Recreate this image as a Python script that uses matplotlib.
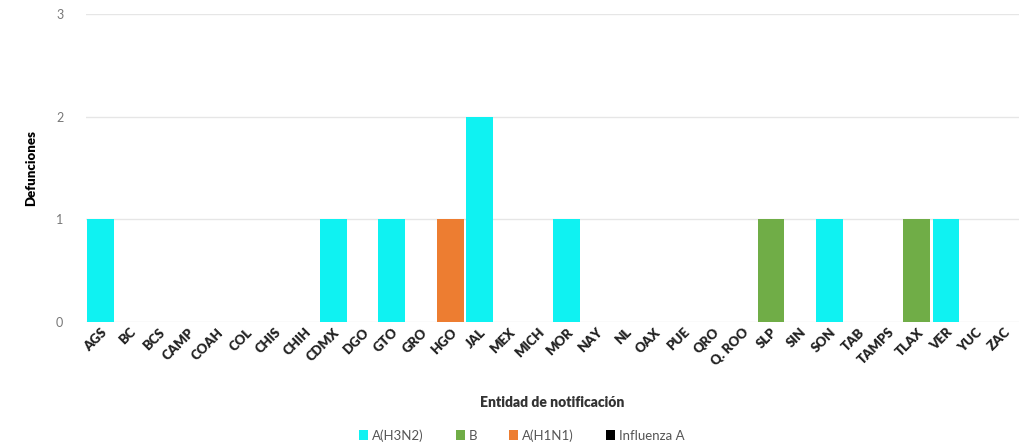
import numpy as np
import matplotlib.pyplot as plt

estados = ["AGS", "BC", "BCS", "CAMP", "COAH", "COL", "CHIS", "CHIH", "CDMX", "DGO",
           "GTO", "GRO", "HGO", "JAL", "MEX", "MICH", "MOR", "NAY", "NL", "OAX",
           "PUE", "QRO", "Q. ROO", "SLP", "SIN", "SON", "TAB", "TAMPS", "TLAX", "VER",
           "YUC", "ZAC"]

h3n2 = [1, 0, 0, 0, 0, 0, 0, 0, 1, 0, 1, 0, 0, 2, 0, 0, 1, 0, 0, 0,
        0, 0, 0, 0, 0, 1, 0, 0, 0, 1, 0, 0]
b = [0, 0, 0, 0, 0, 0, 0, 0, 0, 0, 0, 0, 0, 0, 0, 0, 0, 0, 0, 0,
     0, 0, 0, 1, 0, 0, 0, 0, 1, 0, 0, 0]
h1n1 = [0, 0, 0, 0, 0, 0, 0, 0, 0, 0, 0, 0, 1, 0, 0, 0, 0, 0, 0, 0,
        0, 0, 0, 0, 0, 0, 0, 0, 0, 0, 0, 0]
flu_a = [0] * 32

series = [("A(H3N2)", h3n2, "#0ff2f2"), ("B", b, "#70ad47"),
          ("A(H1N1)", h1n1, "#ed7d31"), ("Influenza A", flu_a, "#000000")]

plt.rcParams['font.family'] = ['Lato', 'DejaVu Sans']

fig = plt.figure(figsize=(10.19, 4.47), dpi=100)
ax = fig.add_axes([0.084, 0.28, 0.916, 0.689])

x = np.arange(len(estados))
bottom = np.zeros(len(estados))
for name, vals, col in series:
    vals = np.array(vals, dtype=float)
    ax.bar(x, vals, width=0.92, bottom=bottom, color=col, label=name, zorder=3)
    bottom += vals

ax.set_xlim(-0.5, len(estados) - 0.5)
ax.set_ylim(0, 3)
ax.set_yticks([0, 1, 2, 3])
ax.grid(axis='y', color='#e6e6e6', linewidth=1, zorder=0)
for s in ax.spines.values():
    s.set_visible(False)
ax.tick_params(axis='y', length=0, labelsize=9, labelcolor='#777777', pad=16)
ax.tick_params(axis='x', length=0, pad=3)
ax.set_xticks(x)
ax.set_xticklabels(estados, rotation=45, ha='right', rotation_mode='anchor',
                   fontsize=9.5, fontweight='heavy', color='#222222')
ax.set_ylabel("Defunciones", fontsize=9.5, fontweight='heavy', labelpad=14)
ax.set_xlabel("Entidad de notificación", fontsize=10, fontweight='heavy',
              color='#333333', labelpad=20)

fig.legend(*ax.get_legend_handles_labels(), loc='center',
           bbox_to_anchor=(0.512, 0.026), ncol=4, frameon=False,
           fontsize=9.5, handlelength=0.7, handleheight=0.7, handletextpad=0.3,
           columnspacing=2.4, labelcolor='#555555')

fig.savefig("out.png", dpi=100, facecolor='white')
